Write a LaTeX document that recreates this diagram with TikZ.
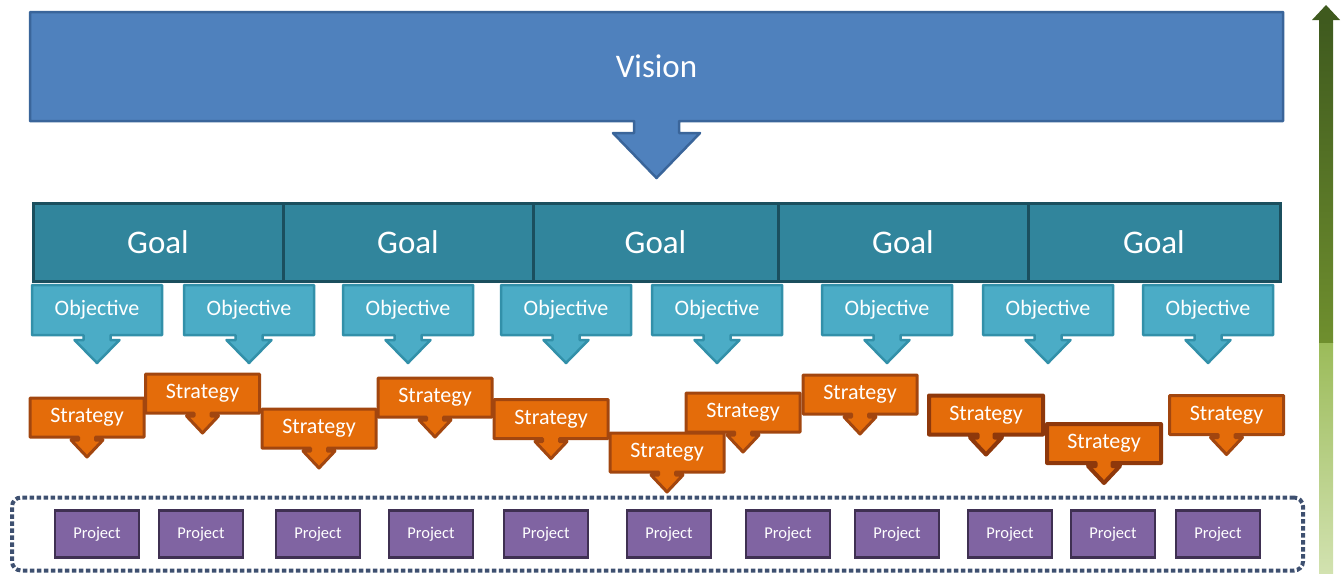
\documentclass[tikz,border=0pt]{standalone}
\usepackage{fontspec}
\setmainfont{Carlito}
\usetikzlibrary{positioning,calc,fit,backgrounds}
\definecolor{cVis}{HTML}{4F81BD}
\definecolor{cVisD}{HTML}{3A659A}
\definecolor{cGoal}{HTML}{31859C}
\definecolor{cGoalD}{HTML}{1B4F5E}
\definecolor{cObj}{HTML}{4BACC6}
\definecolor{cObjD}{HTML}{3290A9}
\definecolor{cStr}{HTML}{E46C0A}
\definecolor{cStrD}{HTML}{A2460F}
\definecolor{cStrX}{HTML}{8E380B}
\definecolor{cPrj}{HTML}{8064A2}
\definecolor{cPrjD}{HTML}{3F3052}
\definecolor{cFrame}{HTML}{3E5070}
\definecolor{cGrnA}{HTML}{3F5A1E}
\definecolor{cGrnB}{HTML}{6F8F2E}
\definecolor{cGrnC}{HTML}{9BBB59}
\definecolor{cGrnD}{HTML}{D2E2B0}
\tikzset{
  lbl/.style   ={inner sep=0pt,outer sep=0pt,text=white,align=center},
  vbox/.style  ={lbl,minimum width=1253pt,minimum height=109pt,
                 font=\fontsize{33}{40}\selectfont},
  gbox/.style  ={lbl,draw=cGoalD,fill=cGoal,line width=3pt,
                 minimum height=78pt,font=\fontsize{33}{40}\selectfont},
  obox/.style  ={lbl,minimum width=130pt,minimum height=50pt,
                 font=\fontsize{22}{26}\selectfont},
  sbox/.style  ={lbl,minimum width=114pt,minimum height=39pt,
                 font=\fontsize{22}{26}\selectfont},
  pbox/.style  ={lbl,draw=cPrjD,fill=cPrj,line width=2.5pt,
                 minimum width=84pt,minimum height=47pt,
                 font=\fontsize{16.5}{20}\selectfont},
  frame/.style ={draw=cFrame,line width=4pt,dash pattern=on 4.5pt off 2.5pt,
                 rounded corners=9pt,inner xsep=43pt,inner ysep=13pt},
  vshape/.style={fill=cVis,draw=cVisD,line width=2.5pt,line join=round},
  oshape/.style={fill=cObj,draw=cObjD,line width=2.5pt,line join=round},
  sshape/.style={fill=cStr,draw=cStrD,line width=3pt,line join=round},
  sdark/.style ={fill=cStr,draw=cStrX,line width=4pt,line join=round},
}
% box with a down-pointing arrow under it:
% node, style, stem half width, stem length, head half width, head length
\newcommand{\dropbox}[6]{%
  \draw[#2] (#1.north west) -- (#1.north east) -- (#1.south east)
    -- ($(#1.south)+(#3,0)$) -- ($(#1.south)+(#3,#4)$) -- ($(#1.south)+(#5,#4)$)
    -- ($(#1.south)+(0,#4+#6)$) -- ($(#1.south)+(-#5,#4)$)
    -- ($(#1.south)+(-#3,#4)$) -- ($(#1.south)+(-#3,0)$) -- (#1.south west) -- cycle;}

\begin{document}
\begin{tikzpicture}[x=1pt,y=-1pt]
\useasboundingbox (0,0) rectangle (1343,576);

% vision
\node[vbox] (vis) at (656.5,66.5) {Vision};

% goals
\foreach \x/\w [count=\i] in {158/250,408/250,655.5/245,903/250,1154/252}
  \node[gbox,minimum width=\w pt,text depth=-4pt] (g\i) at (\x,242) {Goal};

% objectives
\foreach \x [count=\i] in {97,249,408,566,717,887,1048,1208}
  \node[obox] (o\i) at (\x,310) {Objective};

% strategies
\foreach \x/\y [count=\i] in {87/417.5,202.5/393.5,319/428.5,435/397.5,551/419,
    667/452.5,743/412.5,860/394.5,986/415,1104/443.5,1226.5/415}
  \node[sbox] (s\i) at (\x,\y) {Strategy};

% projects
\foreach \x [count=\i] in {97,201,318,431,546,669,788,897,1010,1113,1218}
  \node[pbox] (p\i) at (\x,534) {Project};
\node[frame,fit=(p1)(p11)] (prj) {};

% the box outlines go behind the texts
\begin{scope}[on background layer]
  \dropbox{vis}{vshape}{22.5}{12}{43.5}{45}
  \foreach \i in {1,...,8}
    {\dropbox{o\i}{oshape}{13.5}{5}{22.5}{23}}
  \foreach \i/\st in {1/sshape,2/sshape,3/sshape,4/sshape,5/sshape,6/sshape,
      7/sshape,8/sshape,9/sdark,10/sdark,11/sshape}
    {\dropbox{s\i}{\st}{8.5}{3}{16}{17}}
\end{scope}

% green scale arrow on the right
\coordinate (gbase) at (1326,573);
\coordinate (gmid)  at (1326,342);
\coordinate (gtop)  at (1326,5);
\fill[top color=cGrnC,bottom color=cGrnD] ($(gmid)+(-7,0)$) rectangle ($(gbase)+(7,0)$);
\fill[top color=cGrnA,bottom color=cGrnB] ($(gtop)+(-7,15)$) rectangle ($(gmid)+(7,0)$);
\fill[cGrnA] (gtop) -- ($(gtop)+(14,15)$) -- ($(gtop)+(-14,15)$) -- cycle;
\end{tikzpicture}
\end{document}
